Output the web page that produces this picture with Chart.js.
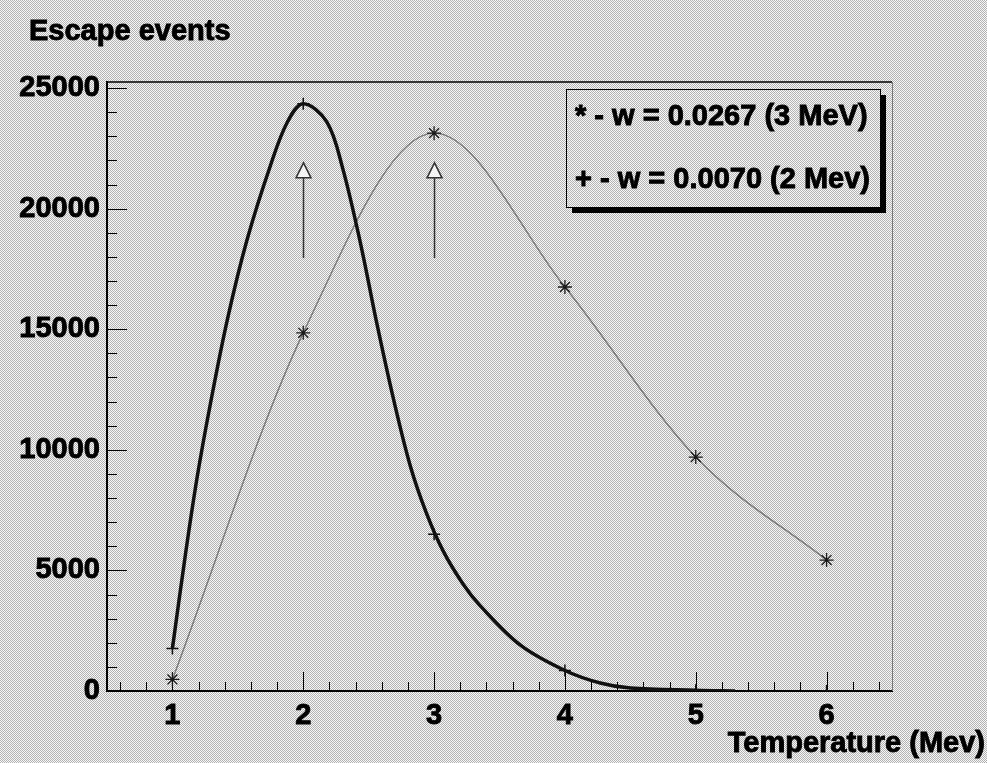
<!DOCTYPE html>
<html>
<head>
<meta charset="utf-8">
<script src="https://cdn.jsdelivr.net/npm/chart.js@4/dist/chart.umd.min.js"></script>
<style>
    html, body { margin: 0; padding: 0; background: #d6d6d6; }
</style>
</head>
<body>
<canvas id="escapeChart" width="987" height="763"></canvas>
<script>
// temperatures with markers (Mev)
var tempPoints = [1, 2, 3, 4, 5, 6];
// '*' - w = 0.0267 (3 MeV)
var events3MeV = [480, 14850, 23130, 16750, 9700, 5430];
// '+' - w = 0.0070 (2 MeV)
var events2MeV = [1760, 24350, 6500, 850, 30, 0];
// 2 MeV curve
var curve2MeVX = [1.0, 1.1, 1.19, 1.29, 1.42, 1.57, 1.75, 1.88, 2.0, 2.18, 2.3, 2.44, 2.56, 2.69, 2.82, 2.94, 3.07, 3.22, 3.35, 3.66, 4.0, 4.27, 4.5, 5.0, 5.3];
var curve2MeVY = [1760, 5680, 8890, 11900, 15400, 18700, 21800, 23600, 24350, 23600, 21700, 18500, 15300, 12100, 9300, 7400, 5800, 4450, 3550, 1900, 850, 330, 120, 30, 0];

var xTicks = [1, 2, 3, 4, 5, 6];
var yTicks = [0, 5000, 10000, 15000, 20000, 25000];
var legendLabels = ['* - w = 0.0267 (3 MeV)', '+ - w = 0.0070 (2 Mev)'];
var titleText = 'Escape events';
var xTitleText = 'Temperature (Mev)';

// arrows marking the peaks
var arrowX = [2, 3];
var arrowFrom = [17950, 17950];
var arrowTo = [21900, 21900];

var FONT = '"Liberation Sans", Arial, Helvetica, sans-serif';

function toPoints(xs, ys) {
    return xs.map(function (x, i) { return { x: x, y: ys[i] }; });
}

// ROOT style stipple background
function stipple(ctx) {
    var c = document.createElement('canvas');
    c.width = 2; c.height = 2;
    var g = c.getContext('2d');
    g.fillStyle = '#f8f8f8';
    g.fillRect(0, 0, 2, 2);
    g.fillStyle = '#b2b2b2';
    g.fillRect(0, 0, 1, 1);
    g.fillRect(1, 1, 1, 1);
    return ctx.createPattern(c, 'repeat');
}

function boldText(ctx, txt, x, y) {
    ctx.fillText(txt, x, y);
    ctx.strokeText(txt, x, y);
}

var rootFrame = {
    id: 'rootFrame',
    beforeDraw: function (chart) {
        var ctx = chart.ctx;
        ctx.save();
        ctx.fillStyle = stipple(ctx);
        ctx.fillRect(0, 0, chart.width, chart.height);
        ctx.restore();
    },
    beforeDatasetsDraw: function (chart) {
        var ctx = chart.ctx, a = chart.chartArea;
        var xs = chart.scales.x, ys = chart.scales.y;
        ctx.save();
        ctx.strokeStyle = '#000';
        ctx.lineWidth = 1;
        // x ticks, pointing inward
        for (var k = 3; k <= 32; k++) {
            var px = Math.round(xs.getPixelForValue(k / 5)) + 0.5;
            var len = (k % 5 === 0) ? 19 : 9;
            ctx.beginPath();
            ctx.moveTo(px, a.bottom);
            ctx.lineTo(px, a.bottom - len);
            ctx.stroke();
        }
        // y ticks
        for (var j = 1; j <= 25; j++) {
            var py = Math.round(ys.getPixelForValue(j * 1000)) + 0.5;
            var l2 = (j % 5 === 0) ? 20 : 10;
            ctx.beginPath();
            ctx.moveTo(a.left, py);
            ctx.lineTo(a.left + l2, py);
            ctx.stroke();
        }
        // top and right frame
        ctx.lineWidth = 1.5;
        ctx.beginPath();
        ctx.moveTo(a.left, a.top);
        ctx.lineTo(a.right, a.top);
        ctx.stroke();
        ctx.strokeStyle = '#777';
        ctx.lineWidth = 1;
        ctx.beginPath();
        ctx.moveTo(a.right + 0.5, a.top);
        ctx.lineTo(a.right + 0.5, a.bottom);
        ctx.stroke();
        ctx.restore();
    },
    afterDatasetsDraw: function (chart) {
        var ctx = chart.ctx;
        var xs = chart.scales.x, ys = chart.scales.y;
        ctx.save();

        // arrows
        arrowX.forEach(function (v, i) {
            var px = Math.round(xs.getPixelForValue(v)) + 0.5;
            var y0 = ys.getPixelForValue(arrowFrom[i]);
            var y1 = ys.getPixelForValue(arrowTo[i]);
            ctx.strokeStyle = '#333';
            ctx.lineWidth = 1.5;
            ctx.beginPath();
            ctx.moveTo(px, y0);
            ctx.lineTo(px, y1 + 15);
            ctx.stroke();
            ctx.beginPath();
            ctx.moveTo(px, y1);
            ctx.lineTo(px - 7.5, y1 + 15);
            ctx.lineTo(px + 7.5, y1 + 15);
            ctx.closePath();
            ctx.fillStyle = '#f4f4f4';
            ctx.fill();
            ctx.stroke();
        });

        // legend box with shadow
        var bx = 566, by = 89, bw = 314, bh = 118;
        ctx.fillStyle = '#000';
        ctx.fillRect(bx + 6, by + 6, bw, bh);
        ctx.fillStyle = stipple(ctx);
        ctx.fillRect(bx, by, bw, bh);
        ctx.strokeStyle = '#000';
        ctx.lineWidth = 1;
        ctx.strokeRect(bx + 0.5, by + 0.5, bw, bh);
        ctx.fillStyle = '#000';
        ctx.lineWidth = 0.9;
        ctx.font = 'bold 29px ' + FONT;
        ctx.textAlign = 'left';
        ctx.textBaseline = 'alphabetic';
        boldText(ctx, legendLabels[0], 575, 125);
        boldText(ctx, legendLabels[1], 575, 188);

        // titles
        ctx.font = 'bold 29px ' + FONT;
        boldText(ctx, titleText, 29, 40);
        ctx.textAlign = 'right';
        boldText(ctx, xTitleText, 985, 752);
        ctx.restore();
    }
};

var area = document.getElementById('escapeChart');

new Chart(area, {
    type: 'scatter',
    data: {
        datasets: [{
            label: '2 MeV curve',
            data: toPoints(curve2MeVX, curve2MeVY),
            showLine: true,
            borderColor: '#111',
            borderWidth: 3.5,
            pointRadius: 0,
            tension: 0.35
        }, {
            label: '+ - w = 0.0070 (2 Mev)',
            data: toPoints(tempPoints, events2MeV),
            showLine: false,
            pointStyle: 'cross',
            pointRadius: 6,
            pointBorderColor: '#111',
            pointBorderWidth: 1.5
        }, {
            label: '* - w = 0.0267 (3 MeV)',
            data: toPoints(tempPoints, events3MeV),
            showLine: true,
            borderColor: '#787878',
            borderWidth: 1.4,
            cubicInterpolationMode: 'monotone',
            pointStyle: 'star',
            pointRadius: 7,
            pointBorderColor: '#1a1a1a',
            pointBackgroundColor: '#1a1a1a',
            pointBorderWidth: 1.3
        }]
    },
    options: {
        responsive: false,
        animation: false,
        devicePixelRatio: 1,
        layout: { padding: { top: 82, right: 95, left: 0, bottom: 0 } },
        plugins: {
            legend: { display: false },
            tooltip: { enabled: false },
            title: { display: false }
        },
        scales: {
            x: {
                type: 'linear',
                min: 0.5,
                max: 6.5,
                afterBuildTicks: function (s) {
                    s.ticks = xTicks.map(function (v) { return { value: v }; });
                },
                afterFit: function (s) { s.height = 72; },
                grid: { display: false, drawTicks: false },
                border: { display: true, color: '#000', width: 2 },
                ticks: {
                    color: '#000',
                    padding: 8,
                    maxRotation: 0,
                    textStrokeColor: '#000',
                    textStrokeWidth: 0.9,
                    callback: function (v) { return String(v); },
                    font: { family: FONT, size: 29, weight: 'bold' }
                }
            },
            y: {
                type: 'linear',
                min: 0,
                max: 25250,
                afterBuildTicks: function (s) {
                    s.ticks = yTicks.map(function (v) { return { value: v }; });
                },
                afterFit: function (s) { s.width = 107; },
                grid: { display: false, drawTicks: false },
                border: { display: true, color: '#000', width: 2 },
                ticks: {
                    color: '#000',
                    padding: 7,
                    textStrokeColor: '#000',
                    textStrokeWidth: 0.9,
                    callback: function (v) { return String(v); },
                    font: { family: FONT, size: 29, weight: 'bold' }
                }
            }
        }
    },
    plugins: [rootFrame]
});
</script>
</body>
</html>
